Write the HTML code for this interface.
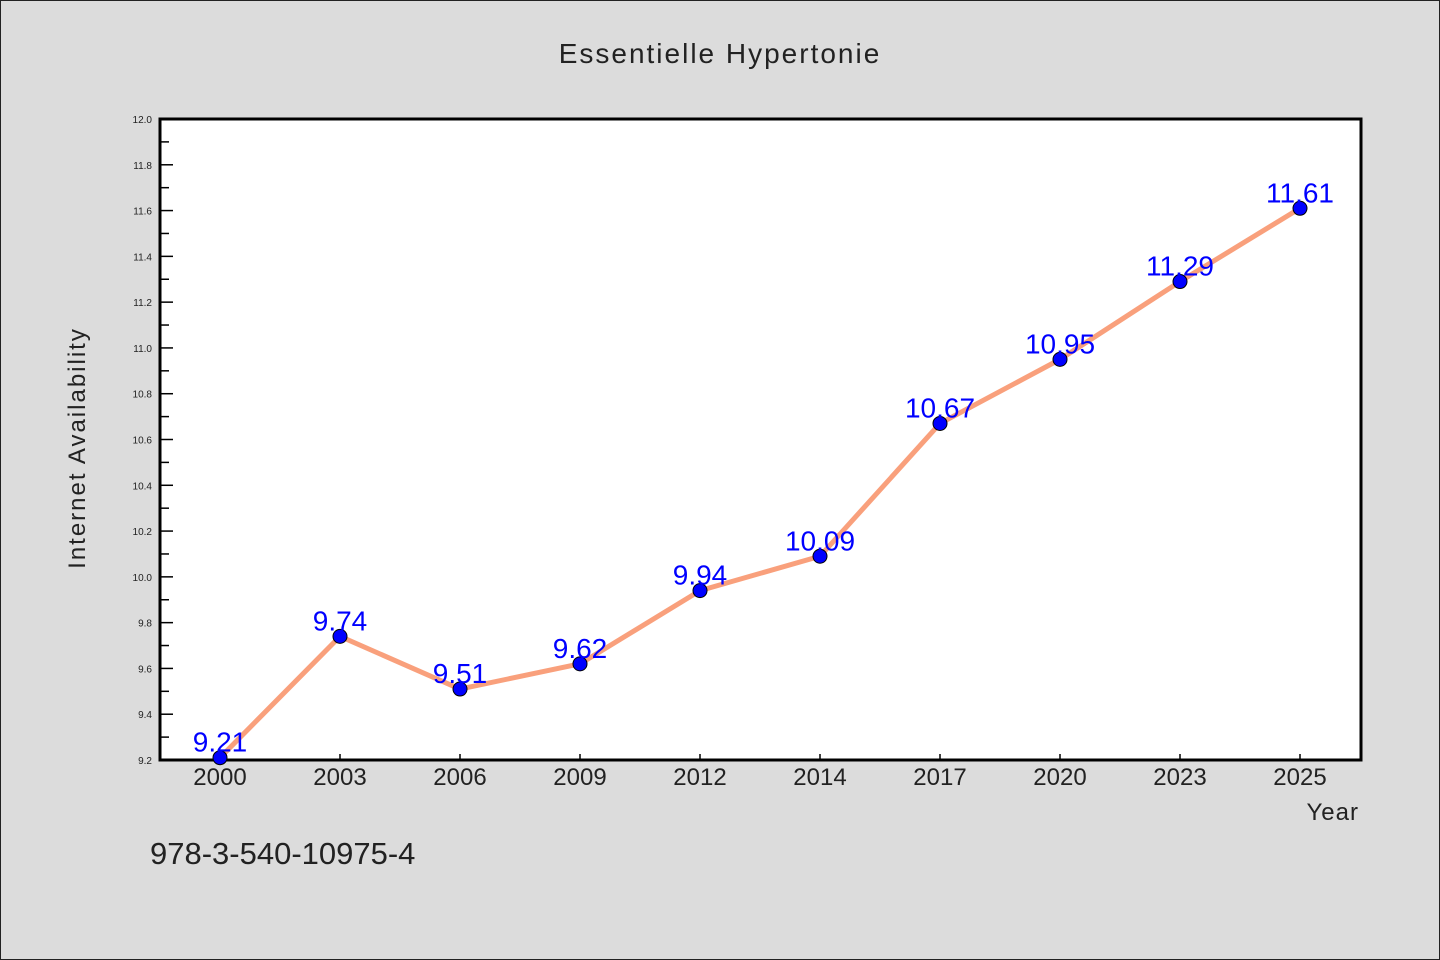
<!DOCTYPE html>
<html><head><meta charset="utf-8"><style>
body{margin:0;background:#dcdcdc;}
svg{display:block;font-family:"Liberation Sans","DejaVu Sans",sans-serif;}
</style></head><body>
<svg id="chart" width="1440" height="960" viewBox="0 0 1440 960">
<rect x="0.5" y="0.5" width="1439" height="959" fill="#dcdcdc" stroke="#222" stroke-width="1"/>
<text x="720" y="63" text-anchor="middle" font-size="28" letter-spacing="2" fill="#222">Essentielle Hypertonie</text>
<rect x="160" y="119" width="1201" height="641" fill="#fff" stroke="#000" stroke-width="3"/>
<g id="yaxis"></g>
<g id="xaxis"></g>
<g id="series"></g>
<text transform="translate(85,448) rotate(-90)" text-anchor="middle" font-size="24" letter-spacing="2" fill="#222">Internet Availability</text>
<text x="1359" y="820" text-anchor="end" font-size="24" letter-spacing="1" fill="#222">Year</text>
<text x="150" y="864" font-size="31" fill="#222">978-3-540-10975-4</text>
</svg>
<script>
const categories=["2000","2003","2006","2009","2012","2014","2017","2020","2023","2025"];
const values=[9.21,9.74,9.51,9.62,9.94,10.09,10.67,10.95,11.29,11.61];
const yTicks=[9.2,9.4,9.6,9.8,10.0,10.2,10.4,10.6,10.8,11.0,11.2,11.4,11.6,11.8,12.0];
const NS="http://www.w3.org/2000/svg";
const L=160,R=1360,T=119,B=760,yMin=9.2,yMax=12.0;
const x=i=>L+(R-L)/categories.length*(i+0.5);
const y=v=>B-(v-yMin)/(yMax-yMin)*(B-T);
function mk(tag,attrs,parent){const e=document.createElementNS(NS,tag);for(const k in attrs)e.setAttribute(k,attrs[k]);parent.appendChild(e);return e;}
const ya=document.getElementById('yaxis'),xa=document.getElementById('xaxis'),sg=document.getElementById('series');
yTicks.forEach((t,i)=>{
  const yy=y(t);
  const tk=mk('line',{x1:L,x2:L+13,y1:yy,y2:yy,stroke:'#000','stroke-width':1.5},ya);
  
  
  const lb=mk('text',{x:L-8,y:yy+4,'text-anchor':'end','font-size':10,fill:'#222'},ya);
  
  
  lb.textContent=t.toFixed(1);
  if(i<yTicks.length-1){
    const ym=y(t+0.1);
    const mt=mk('line',{x1:L,x2:L+9,y1:ym,y2:ym,stroke:'#000','stroke-width':1.5},ya);
    
    
  }
});
categories.forEach((c,i)=>{
  const tk=mk('line',{x1:x(i),x2:x(i),y1:B,y2:B-6,stroke:'#000','stroke-width':1.5},xa);
  
  
  const lb=mk('text',{x:x(i),y:B+25,'text-anchor':'middle','font-size':24,fill:'#222'},xa);
  
  
  lb.textContent=c;
});
const pl=mk('polyline',{points:values.map((v,i)=>x(i)+','+y(v)).join(' '),fill:'none',stroke:'#f9a07c','stroke-width':5,'stroke-linejoin':'round'},sg);


values.forEach((v,i)=>{
  const p=mk('circle',{cx:x(i),cy:y(v),r:7,fill:'#0000ff',stroke:'#000','stroke-width':1},sg);
  
  
  const t=mk('text',{x:x(i),y:y(v)-6,'text-anchor':'middle','font-size':28,fill:'#0000ff'},sg);
  
  
  t.textContent=v.toFixed(2);
});
</script>
</body></html>
